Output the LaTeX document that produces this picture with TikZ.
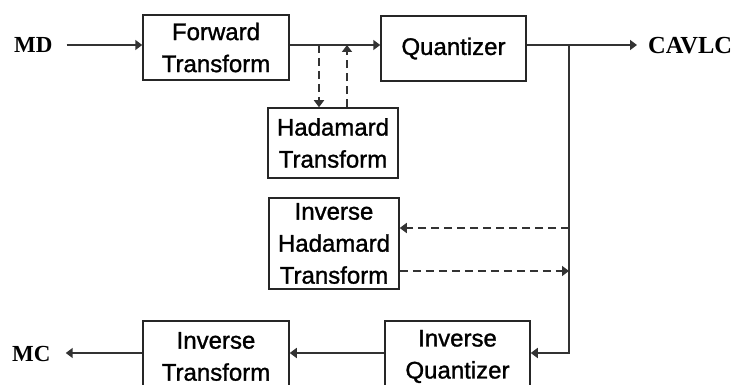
\documentclass[tikz,border=0pt]{standalone}
\usepackage{fontspec}
\setmainfont{Liberation Serif}
\newfontfamily\boxfont[FakeBold=1.2]{Liberation Sans}
\usetikzlibrary{arrows.meta}
\tikzset{
  blockbox/.style={draw=black!85, line width=1.5pt, inner sep=0pt, align=center,
    font=\boxfont\fontsize{24}{32}\selectfont},
  termlabel/.style={inner sep=0pt, font=\bfseries\fontsize{23}{26}\selectfont},
  flow/.style={draw=black!80, line width=1.6pt, -{Triangle[length=7pt,width=10pt]}},
  dflow/.style={flow, dash pattern=on 8pt off 5pt},
}
\begin{document}
\begin{tikzpicture}[x=1pt,y=-1pt]
  \clip (0,0) rectangle (736,385);
  \fill[white] (0,0) rectangle (736,385);

  % row levels and branch points
  \coordinate (toprow) at (0,45);
  \coordinate (botrow) at (0,353);
  \coordinate (hd) at (319,45);
  \coordinate (hu) at (347,45);
  \coordinate (br) at (569,45);
  \coordinate (r1) at (569,228);
  \coordinate (r2) at (569,271);

  % blocks
  \node[blockbox, minimum width=146pt, minimum height=65pt] (fwd)  at (216,47.5)  {Forward\\Transform};
  \node[blockbox, minimum width=145pt, minimum height=65pt] (quant) at (453.5,48.5) {Quantizer};
  \node[blockbox, minimum width=130pt, minimum height=70pt] (had)  at (333,143)   {Hadamard\\Transform};
  \node[blockbox, minimum width=130pt, minimum height=91pt] (ihad) at (334,243.5) {Inverse\\Hadamard\\Transform};
  \node[blockbox, minimum width=145pt, minimum height=71pt] (iq)   at (457.5,356.5) {Inverse\\Quantizer};
  \node[blockbox, minimum width=146pt, minimum height=71pt] (itr)  at (216,356.5) {Inverse\\Transform};

  % terminal labels
  \node[termlabel, anchor=west] (md)    at (14,45)  {MD};
  \node[termlabel, anchor=west, font=\bfseries\fontsize{24.5}{26}\selectfont] (cavlc) at (648,46) {CAVLC};
  \node[termlabel, anchor=west] (mc)    at (12,354) {MC};

  % forward path
  \draw[flow] ([xshift=14pt]md.east |- toprow) -- (fwd.west |- toprow);
  \draw[flow] (fwd.east |- toprow) -- (quant.west |- toprow);
  \draw[dflow] (hd) -- (hd |- had.north);
  \draw[dflow] (hu |- had.north) -- (hu);
  \draw[flow] (quant.east |- toprow) -- ([xshift=-11pt]cavlc.west |- toprow);

  % reconstruction path
  \draw[flow] (br) |- (iq.east |- botrow);
  \draw[dflow] (r1) -- (r1 -| ihad.east);
  \draw[dflow] (r2 -| ihad.east) -- (r2);
  \draw[flow] (iq.west |- botrow) -- (itr.east |- botrow);
  \draw[flow] (itr.west |- botrow) -- ([xshift=15pt]mc.east |- botrow);
\end{tikzpicture}
\end{document}
